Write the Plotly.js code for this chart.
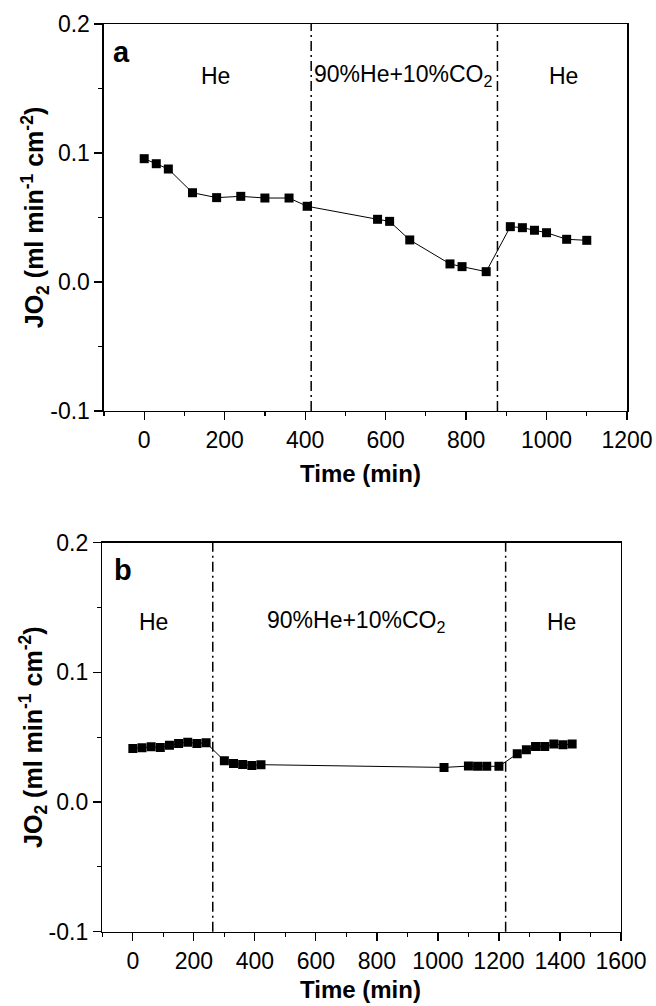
<!DOCTYPE html>
<html>
<head>
<meta charset="utf-8">
<script src="https://cdn.plot.ly/plotly-3.0.1.min.js"></script>
<style>html,body{margin:0;padding:0;background:#fff;}#chart{width:656px;height:1006px;}</style>
</head>
<body>
<div id="chart"></div>
<script>
// Panel a data
const timeA = [0, 30, 60, 120, 180, 240, 300, 360, 405, 580, 610, 660, 760, 790, 850, 910, 940, 970, 1000, 1050, 1100];
const jo2A  = [0.0956, 0.0917, 0.0876, 0.0692, 0.0654, 0.0664, 0.0651, 0.0651, 0.0587, 0.0486, 0.0470, 0.0326, 0.0140, 0.0119, 0.0080, 0.0429, 0.0421, 0.0401, 0.0382, 0.0331, 0.0323];
// Panel b data
const timeB = [0, 30, 60, 90, 120, 150, 180, 210, 240, 300, 330, 360, 390, 420, 1020, 1100, 1130, 1160, 1200, 1260, 1290, 1320, 1350, 1380, 1410, 1440];
const jo2B  = [0.0413, 0.0419, 0.0426, 0.0421, 0.0437, 0.0452, 0.0462, 0.0452, 0.0457, 0.0318, 0.0298, 0.0290, 0.0282, 0.0288, 0.0267, 0.0277, 0.0275, 0.0275, 0.0275, 0.0372, 0.0403, 0.0429, 0.0429, 0.0447, 0.0442, 0.0447];
// Gas switch times
const switchA = [415, 878];
const switchB = [262, 1222];
// Tick labels
const yTickVals = [-0.1, 0, 0.1, 0.2];
const yTickText = ['-0.1', '0.0', '0.1', '0.2'];
// Titles and region labels
const xTitle = '<b>Time (min)</b>';
const yTitle = '<b>JO<sub>2</sub> (ml min<sup>-1</sup> cm<sup>-2</sup>)</b>';
const regionLabels = ['He', '90%He+10%CO<sub>2</sub>', 'He'];
const labelXA = [177, 644, 1041];
const labelXB = [67, 730, 1406];
const labelYA = 0.160;
const labelYB = 0.139;
const panelLabels = ['a', 'b'];

const FONT = 'Arial, "Liberation Sans", Helvetica, sans-serif';
const mk = {symbol: 'square', size: 9, color: '#000'};
const ln = {color: '#000', width: 1};

const traces = [
  {x: timeA, y: jo2A, xaxis: 'x', yaxis: 'y', mode: 'lines+markers', marker: mk, line: ln, showlegend: false},
  {x: timeB, y: jo2B, xaxis: 'x2', yaxis: 'y2', mode: 'lines+markers', marker: mk, line: ln, showlegend: false}
];

function xax(domain, range, anchor) {
  return {
    domain: domain, range: range, anchor: anchor,
    tickmode: 'linear', tick0: 0, dtick: 200,
    ticks: 'outside', ticklen: 8, tickwidth: 1.2, tickcolor: '#000',
    minor: {tickmode: 'linear', tick0: 0, dtick: 100, ticks: 'outside', ticklen: 4, tickwidth: 1.2, tickcolor: '#000'},
    showline: true, linecolor: '#000', linewidth: 1.5, mirror: true,
    showgrid: false, zeroline: false,
    tickfont: {family: FONT, size: 23, color: '#000'},
    automargin: false
  };
}
function yax(domain, anchor) {
  return {
    domain: domain, range: [-0.1, 0.2], anchor: anchor,
    tickmode: 'array', tickvals: yTickVals, ticktext: yTickText,
    ticks: 'outside', ticklen: 8, tickwidth: 1.2, tickcolor: '#000',
    minor: {tickmode: 'linear', tick0: 0, dtick: 0.05, ticks: 'outside', ticklen: 4, tickwidth: 1.2, tickcolor: '#000'},
    showline: true, linecolor: '#000', linewidth: 1.5, mirror: true,
    showgrid: false, zeroline: false,
    tickfont: {family: FONT, size: 23, color: '#000'},
    title: {text: yTitle, font: {family: FONT, size: 25, color: '#000'}},
    automargin: false
  };
}

const dashStyle = {color: '#000', width: 1.5, dash: '10px,4px,2px,4px'};
const shapes = [];
switchA.forEach(v => shapes.push({type: 'line', xref: 'x', yref: 'y domain', x0: v, x1: v, y0: 0, y1: 1, line: dashStyle}));
switchB.forEach(v => shapes.push({type: 'line', xref: 'x2', yref: 'y2 domain', x0: v, x1: v, y0: 0, y1: 1, line: dashStyle}));

const annotations = [];
regionLabels.forEach((t, i) => {
  annotations.push({text: t, xref: 'x', yref: 'y', x: labelXA[i], y: labelYA, showarrow: false, font: {family: FONT, size: 23, color: '#000'}});
  annotations.push({text: t, xref: 'x2', yref: 'y2', x: labelXB[i], y: labelYB, showarrow: false, font: {family: FONT, size: 23, color: '#000'}});
});
annotations.push({text: '<b>' + panelLabels[0] + '</b>', xref: 'x domain', yref: 'y domain', x: 0.014, y: 0.975, xanchor: 'left', yanchor: 'top', showarrow: false, font: {family: FONT, size: 29, color: '#000'}});
annotations.push({text: '<b>' + panelLabels[1] + '</b>', xref: 'x2 domain', yref: 'y2 domain', x: 0.018, y: 0.975, xanchor: 'left', yanchor: 'top', showarrow: false, font: {family: FONT, size: 29, color: '#000'}});
// x-axis titles
annotations.push({text: xTitle, xref: 'paper', yref: 'y domain', x: 0.5503, y: 0, yshift: -63, yanchor: 'middle', borderpad: 0, showarrow: false, font: {family: FONT, size: 24, color: '#000'}});
annotations.push({text: xTitle, xref: 'paper', yref: 'y2 domain', x: 0.5503, y: 0, yshift: -58, yanchor: 'middle', borderpad: 0, showarrow: false, font: {family: FONT, size: 24, color: '#000'}});

const layout = {
  width: 656, height: 1006,
  margin: {l: 0, r: 0, t: 0, b: 0},
  paper_bgcolor: '#fff', plot_bgcolor: '#fff',
  xaxis: xax([0.1585, 0.9558], [-100, 1200], 'y'),
  yaxis: yax([0.5915, 0.9761], 'x'),
  xaxis2: xax([0.156, 0.9466], [-100, 1600], 'y2'),
  yaxis2: yax([0.0739, 0.4605], 'x2'),
  shapes: shapes,
  annotations: annotations,
  showlegend: false
};

Plotly.newPlot('chart', traces, layout, {staticPlot: true, displayModeBar: false});
</script>
</body>
</html>
